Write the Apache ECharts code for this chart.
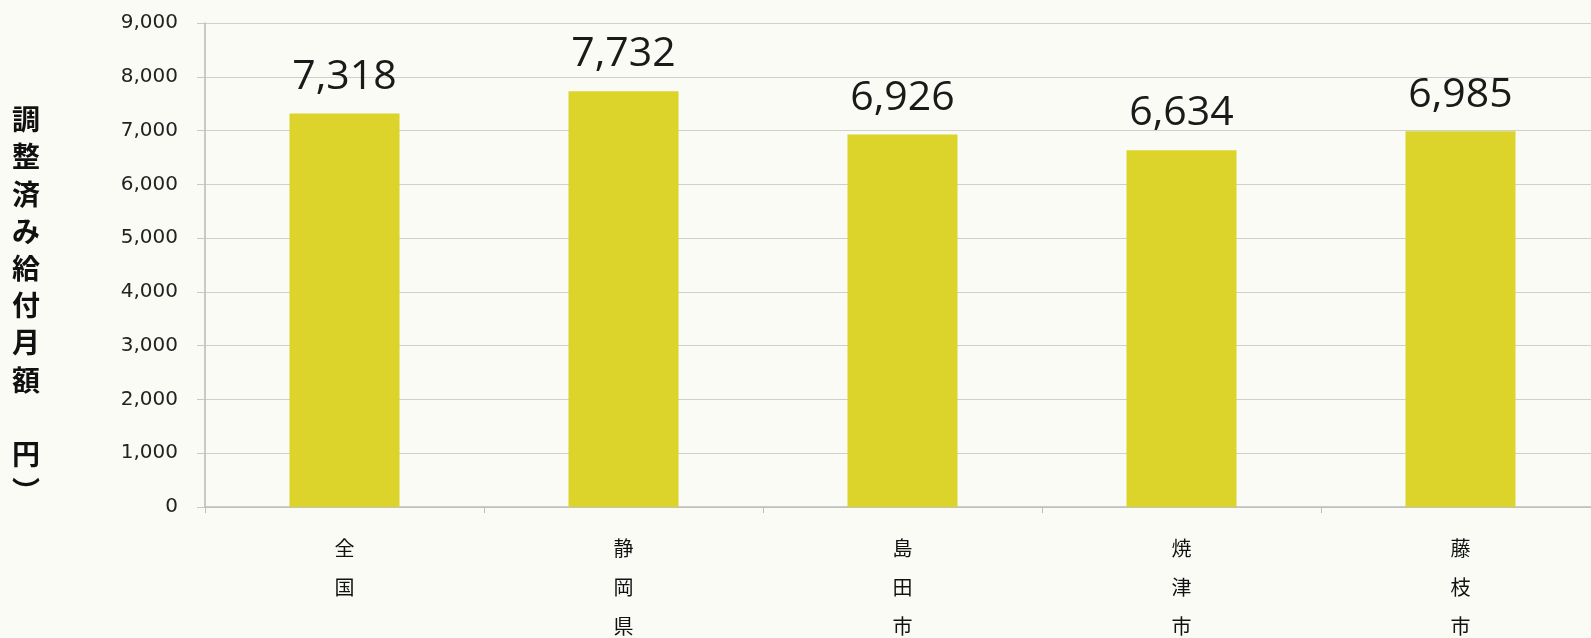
<!DOCTYPE html>
<html><head><meta charset="utf-8">
<script src="https://cdn.jsdelivr.net/npm/echarts@6/dist/echarts.min.js"></script>
<style>html,body{margin:0;padding:0;background:#fbfbf6;}#c{width:1591px;height:638px;}</style>
</head><body><div id="c"></div>
<script>
const categories = ['全国', '静岡県', '島田市', '焼津市', '藤枝市'];
const values = [7318, 7732, 6926, 6634, 6985];
const yAxisName = '調整済み給付月額（円）';

const chart = echarts.init(document.getElementById('c'));
const vName = '調\n整\n済\nみ\n給\n付\n月\n額\n\n円\n︶';
chart.setOption({
  backgroundColor: '#fbfbf6',
  animation: false,
  grid: { left: 205, top: 23, width: 1395, height: 484, outerBoundsMode: 'none', containLabel: false },
  graphic: [{
    type: 'text',
    x: 26, y: 101,
    style: {
      text: vName,
      fontFamily: 'Noto Sans CJK JP',
      fontWeight: 'bold',
      fontSize: 28,
      lineHeight: 37.2,
      fill: '#111',
      align: 'center',
      verticalAlign: 'top'
    }
  }],
  xAxis: {
    type: 'category',
    data: categories,
    axisLine: { lineStyle: { color: '#bdbdbd', width: 1.5 } },
    axisTick: { show: true, length: 6, lineStyle: { color: '#bdbdbd' } },
    axisLabel: {
      margin: 22,
      fontFamily: 'Noto Sans CJK JP',
      fontSize: 20,
      lineHeight: 39,
      color: '#111',
      formatter: v => v.split('').join('\n')
    }
  },
  yAxis: {
    type: 'value',
    min: 0, max: 9000, interval: 1000,
    axisLine: { show: true, lineStyle: { color: '#b8b8b8', width: 1.5 } },
    axisTick: { show: true, inside: false, length: 8, lineStyle: { color: '#c8c8c8' } },
    splitLine: { lineStyle: { color: '#cfcfcf', width: 1.2 } },
    axisLabel: {
      margin: 27,
      fontFamily: 'DejaVu Sans',
      fontSize: 20,
      color: '#222',
      formatter: v => v.toLocaleString('en-US')
    }
  },
  series: [{
    type: 'bar',
    data: values,
    barWidth: 110,
    itemStyle: { color: '#dcd42a' },
    label: {
      show: true,
      position: 'top',
      distance: 16,
      fontFamily: 'Open Sans',
      fontSize: 41,
      color: '#1a1a1a',
      formatter: p => p.value.toLocaleString('en-US')
    }
  }]
});
</script>
</body></html>
